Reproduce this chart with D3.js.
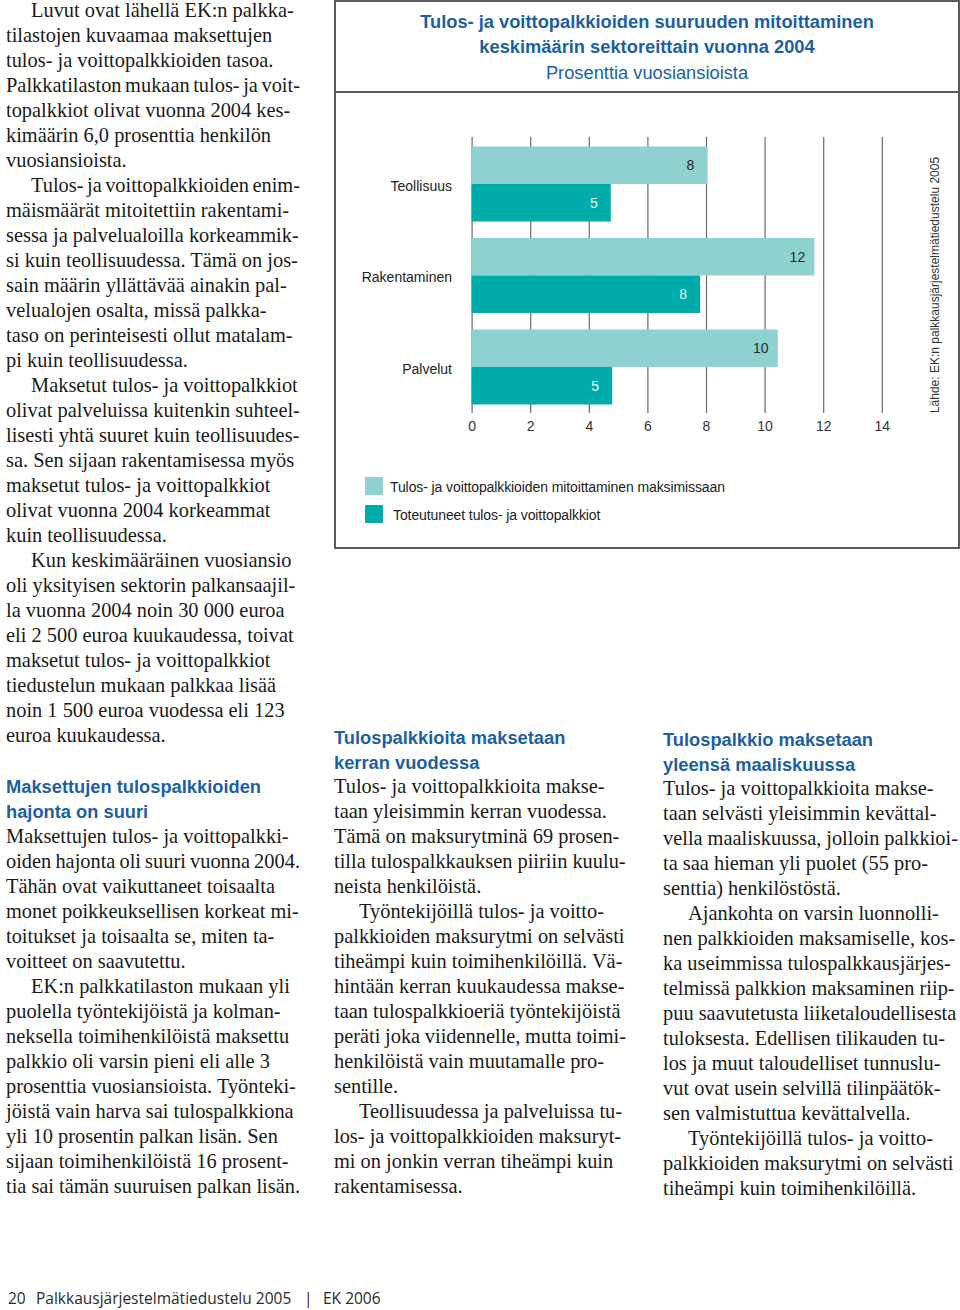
<!DOCTYPE html>
<html>
<head>
<meta charset="utf-8">
<script src="https://cdn.jsdelivr.net/npm/d3@7"></script>
<style>
  html, body { margin: 0; padding: 0; background: #ffffff; }
  svg { display: block; }
</style>
</head>
<body>
<script>
// ---------------- DATA ----------------
const categories = ["Teollisuus", "Rakentaminen", "Palvelut"];
const maxValues = [8.05, 11.7, 10.45];     // Tulos- ja voittopalkkioiden mitoittaminen maksimissaan
const actualValues = [4.75, 7.8, 4.8];     // Toteutuneet tulos- ja voittopalkkiot
const seriesNames = ["Tulos- ja voittopalkkioiden mitoittaminen maksimissaan", "Toteutuneet tulos- ja voittopalkkiot"];
const xTicks = [0, 2, 4, 6, 8, 10, 12, 14];
const titleLines = ["Tulos- ja voittopalkkioiden suuruuden mitoittaminen", "keskimäärin sektoreittain vuonna 2004"];
const subtitle = "Prosenttia vuosiansioista";
const sourceText = "Lähde: EK:n palkkausjärjestelmätiedustelu 2005";
const footerText = ["20", "Palkkausjärjestelmätiedustelu 2005", "|", "EK 2006"];

// body text: paragraphs as arrays of lines
const colLeftTop = [
  ["Luvut ovat lähellä EK:n palkka-", "tilastojen kuvaamaa maksettujen", "tulos- ja voittopalkkioiden tasoa.", "Palkkatilaston mukaan tulos- ja voit-", "topalkkiot olivat vuonna 2004 kes-", "kimäärin 6,0 prosenttia henkilön", "vuosiansioista."],
  ["Tulos- ja voittopalkkioiden enim-", "mäismäärät mitoitettiin rakentami-", "sessa ja palvelualoilla korkeammik-", "si kuin teollisuudessa. Tämä on jos-", "sain määrin yllättävää ainakin pal-", "velualojen osalta, missä palkka-", "taso on perinteisesti ollut matalam-", "pi kuin teollisuudessa."],
  ["Maksetut tulos- ja voittopalkkiot", "olivat palveluissa kuitenkin suhteel-", "lisesti yhtä suuret kuin teollisuudes-", "sa. Sen sijaan rakentamisessa myös", "maksetut tulos- ja voittopalkkiot", "olivat vuonna 2004 korkeammat", "kuin teollisuudessa."],
  ["Kun keskimääräinen vuosiansio", "oli yksityisen sektorin palkansaajil-", "la vuonna 2004 noin 30 000 euroa", "eli 2 500 euroa kuukaudessa, toivat", "maksetut tulos- ja voittopalkkiot", "tiedustelun mukaan palkkaa lisää", "noin 1 500 euroa vuodessa eli 123", "euroa kuukaudessa."]
];
const headLeft = ["Maksettujen tulospalkkioiden", "hajonta on suuri"];
const colLeftBottom = [
  ["Maksettujen tulos- ja voittopalkki-", "oiden hajonta oli suuri vuonna 2004.", "Tähän ovat vaikuttaneet toisaalta", "monet poikkeuksellisen korkeat mi-", "toitukset ja toisaalta se, miten ta-", "voitteet on saavutettu."],
  ["EK:n palkkatilaston mukaan yli", "puolella työntekijöistä ja kolman-", "neksella toimihenkilöistä maksettu", "palkkio oli varsin pieni eli alle 3", "prosenttia vuosiansioista. Työnteki-", "jöistä vain harva sai tulospalkkiona", "yli 10 prosentin palkan lisän. Sen", "sijaan toimihenkilöistä 16 prosent-", "tia sai tämän suuruisen palkan lisän."]
];
const headMid = ["Tulospalkkioita maksetaan", "kerran vuodessa"];
const colMid = [
  ["Tulos- ja voittopalkkioita makse-", "taan yleisimmin kerran vuodessa.", "Tämä on maksurytminä 69 prosen-", "tilla tulospalkkauksen piiriin kuulu-", "neista henkilöistä."],
  ["Työntekijöillä tulos- ja voitto-", "palkkioiden maksurytmi on selvästi", "tiheämpi kuin toimihenkilöillä. Vä-", "hintään kerran kuukaudessa makse-", "taan tulospalkkioeriä työntekijöistä", "peräti joka viidennelle, mutta toimi-", "henkilöistä vain muutamalle pro-", "sentille."],
  ["Teollisuudessa ja palveluissa tu-", "los- ja voittopalkkioiden maksuryt-", "mi on jonkin verran tiheämpi kuin", "rakentamisessa."]
];
const headRight = ["Tulospalkkio maksetaan", "yleensä maaliskuussa"];
const colRight = [
  ["Tulos- ja voittopalkkioita makse-", "taan selvästi yleisimmin kevättal-", "vella maaliskuussa, jolloin palkkioi-", "ta saa hieman yli puolet (55 pro-", "senttia) henkilöstöstä."],
  ["Ajankohta on varsin luonnolli-", "nen palkkioiden maksamiselle, kos-", "ka useimmissa tulospalkkausjärjes-", "telmissä palkkion maksaminen riip-", "puu saavutetusta liiketaloudellisesta", "tuloksesta. Edellisen tilikauden tu-", "los ja muut taloudelliset tunnuslu-", "vut ovat usein selvillä tilinpäätök-", "sen valmistuttua kevättalvella."],
  ["Työntekijöillä tulos- ja voitto-", "palkkioiden maksurytmi on selvästi", "tiheämpi kuin toimihenkilöillä."]
];

// ---------------- STYLE ----------------
const BLUE = "#1c5fa3";
const LIGHT = "#8fd1d0";
const DARK = "#00aca9";
const SERIF = "'Liberation Serif', 'Times New Roman', serif";
const SANS = "'Liberation Sans', Arial, sans-serif";

const svg = d3.select("body").append("svg")
  .attr("width", 960).attr("height", 1310)
  .attr("viewBox", "0 0 960 1310");

// ---------------- BODY TEXT ----------------
const LH = 25;
function drawColumn(x0, y0, paragraphs, firstIndent, maxW) {
  const g = svg.append("g").attr("font-family", SERIF).attr("font-size", 20.4).attr("fill", "#1a1a1a");
  let y = y0;
  paragraphs.forEach((para, pi) => {
    para.forEach((line, li) => {
      const indent = (li === 0 && (pi > 0 || firstIndent)) ? 25 : 0;
      const t = g.append("text").attr("x", x0 + indent).attr("y", y).text(line);
      // tighten lines that overflow the column (as the typeset original does)
      const w = t.node().getComputedTextLength();
      const avail = maxW - indent;
      const spaces = (line.match(/ /g) || []).length;
      if (w > avail && spaces > 0) {
        t.attr("word-spacing", (avail - w) / spaces);
      }
      y += LH;
    });
  });
  return y;
}
function drawHeading(x0, y0, lines) {
  const g = svg.append("g").attr("font-family", SANS).attr("font-weight", "bold")
    .attr("font-size", 18.3).attr("fill", BLUE);
  lines.forEach((l, i) => g.append("text").attr("x", x0).attr("y", y0 + i * LH).text(l));
}

drawColumn(6, 17, colLeftTop, true, 294);
drawHeading(6, 793, headLeft);
drawColumn(6, 843, colLeftBottom, false, 294);
drawHeading(334, 744, headMid);
drawColumn(334, 793, colMid, false, 292);
drawHeading(663, 746, headRight);
drawColumn(663, 795, colRight, false, 295);

// ---------------- FOOTER ----------------
const fg = svg.append("g").attr("font-family", "'Open Sans', 'Noto Sans', sans-serif")
  .attr("font-size", 15.5).attr("fill", "#2a2a2a");
fg.append("text").attr("x", 8).attr("y", 1304).text(footerText[0]);
fg.append("text").attr("x", 36).attr("y", 1304).text(footerText[1]);
fg.append("text").attr("x", 304).attr("y", 1304).text(footerText[2]);
fg.append("text").attr("x", 323).attr("y", 1304).text(footerText[3]);

// ---------------- CHART BOX ----------------
const box = { x0: 335, y0: 1, x1: 959, y1: 548, sep: 92 };
svg.append("rect").attr("x", box.x0).attr("y", box.y0)
  .attr("width", box.x1 - box.x0).attr("height", box.y1 - box.y0)
  .attr("fill", "none").attr("stroke", "#5a5a5a").attr("stroke-width", 2);
svg.append("line").attr("x1", box.x0).attr("x2", box.x1).attr("y1", box.sep).attr("y2", box.sep)
  .attr("stroke", "#5a5a5a").attr("stroke-width", 2);

const cx = (box.x0 + box.x1) / 2;
const tg = svg.append("g").attr("font-family", SANS).attr("fill", BLUE).attr("text-anchor", "middle");
titleLines.forEach((t, i) => tg.append("text").attr("x", cx).attr("y", 28 + i * 25)
  .attr("font-size", 18.3).attr("font-weight", "bold").text(t));
tg.append("text").attr("x", cx).attr("y", 79).attr("font-size", 18.3).text(subtitle);

// ---------------- CHART ----------------
const x = d3.scaleLinear().domain([0, 14]).range([471.6, 881.8]);
const y = d3.scaleBand().domain(categories).range([138, 413]).paddingInner(0.18).paddingOuter(0.093);
const sub = d3.scaleBand().domain([0, 1]).range([0, y.bandwidth()]);

// grid lines + tick labels via axis
const axisG = svg.append("g").attr("transform", "translate(0,413)")
  .call(d3.axisBottom(x).tickValues(xTicks).tickSize(413 - 137).tickFormat(d3.format("d")));
axisG.select(".domain").remove();
axisG.selectAll(".tick line").attr("y1", 0).attr("y2", -(413 - 137)).attr("stroke", "#6a6a6a").attr("stroke-width", 1.2);
axisG.selectAll(".tick text").attr("y", 8).attr("dy", "0.71em")
  .attr("font-family", SANS).attr("font-size", 14).attr("fill", "#333");
axisG.attr("font-family", null).attr("font-size", null);

const data = categories.map((c, i) => ({ cat: c, vals: [maxValues[i], actualValues[i]] }));
const groups = svg.append("g").selectAll("g").data(data).join("g")
  .attr("transform", d => `translate(0,${y(d.cat)})`);
groups.selectAll("rect").data(d => d.vals).join("rect")
  .attr("x", x(0)).attr("y", (d, i) => sub(i))
  .attr("width", d => x(d) - x(0)).attr("height", sub.bandwidth())
  .attr("fill", (d, i) => i === 0 ? LIGHT : DARK);
groups.selectAll("text.val").data(d => d.vals).join("text").attr("class", "val")
  .attr("x", d => x(d) - 17).attr("y", (d, i) => sub(i) + sub.bandwidth() / 2)
  .attr("dy", "0.35em").attr("text-anchor", "middle")
  .attr("font-family", SANS).attr("font-size", 14)
  .attr("fill", (d, i) => i === 0 ? "#2a2a2a" : "#e6f7f6")
  .text(d => d3.format(".0f")(d));

// category labels
svg.append("g").selectAll("text").data(categories).join("text")
  .attr("x", 452).attr("y", d => y(d) + y.bandwidth() / 2 + 2)
  .attr("dy", "0.35em").attr("text-anchor", "end")
  .attr("font-family", SANS).attr("font-size", 14).attr("fill", "#222")
  .text(d => d);

// source text (rotated)
svg.append("text").attr("transform", "translate(939,285) rotate(-90)")
  .attr("text-anchor", "middle").attr("font-family", SANS).attr("font-size", 12).attr("fill", "#333")
  .text(sourceText);

// legend
const colors = [LIGHT, DARK];
const lg = svg.append("g").selectAll("g").data(seriesNames).join("g")
  .attr("transform", (d, i) => `translate(365,${477 + i * 28})`);
lg.append("rect").attr("width", 18).attr("height", 18).attr("fill", (d, i) => colors[i]);
lg.append("text").attr("x", (d, i) => 25 + i * 3).attr("y", 10).attr("dy", "0.35em")
  .attr("font-family", SANS).attr("font-size", 14).attr("fill", "#222")
  .attr("letter-spacing", -0.1)
  .text(d => d);
</script>
</body>
</html>
